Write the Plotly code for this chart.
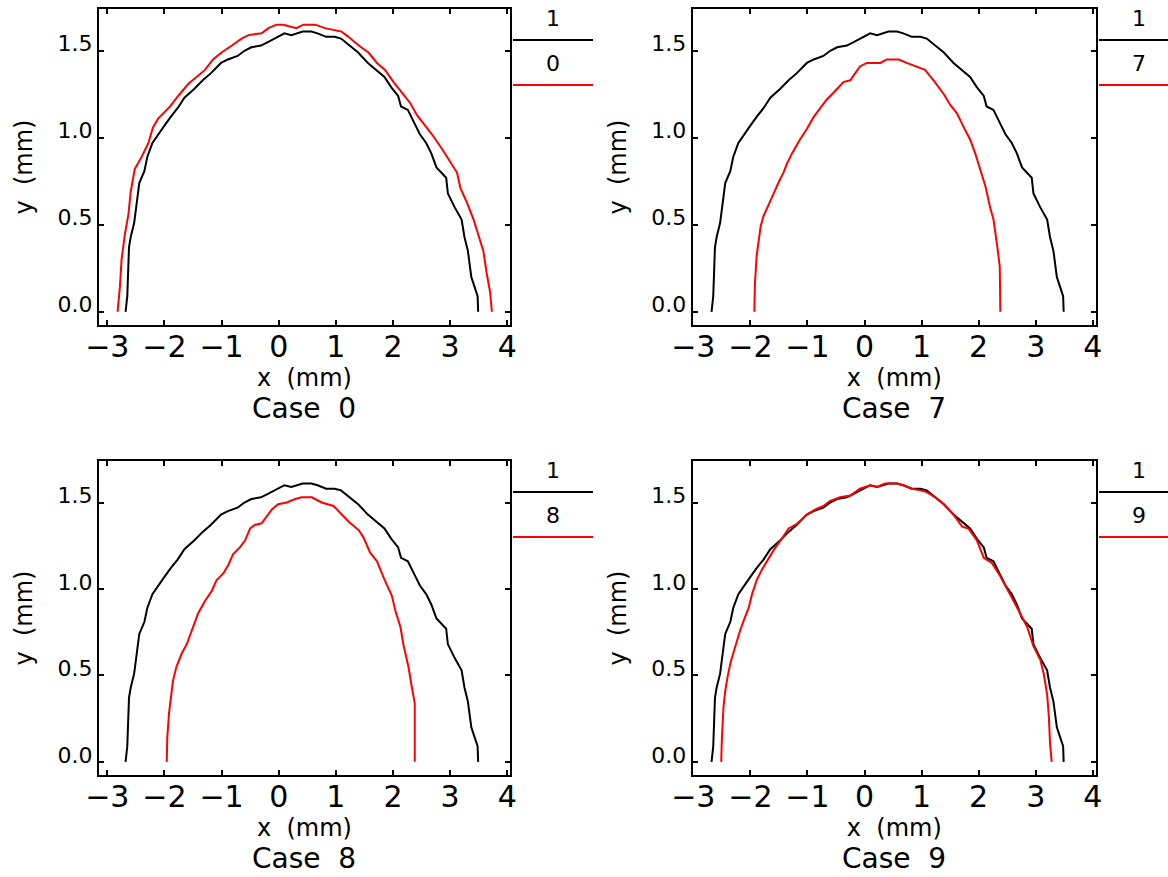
import plotly.graph_objects as go

# ---------------- data ----------------
ref_label = "1"
ref_x = [-2.68, -2.65, -2.62, -2.59, -2.53, -2.50, -2.44, -2.35, -2.30, -2.21, -2.12, -2.00,
         -1.89, -1.77, -1.65, -1.48, -1.33, -1.19, -1.01, -0.89, -0.72, -0.60, -0.48, -0.31,
         -0.19, -0.02, 0.10, 0.22, 0.33, 0.42, 0.57, 0.68, 0.83, 0.98, 1.09, 1.24, 1.39, 1.56,
         1.71, 1.85, 1.97, 2.09, 2.14, 2.26, 2.38, 2.47, 2.58, 2.67, 2.76, 2.93, 2.96, 3.08,
         3.20, 3.25, 3.31, 3.37, 3.43, 3.48, 3.49]
ref_y = [0.00, 0.09, 0.37, 0.43, 0.51, 0.58, 0.74, 0.81, 0.89, 0.97, 1.01, 1.07, 1.12, 1.17,
         1.23, 1.28, 1.33, 1.37, 1.43, 1.45, 1.47, 1.50, 1.52, 1.53, 1.55, 1.58, 1.60, 1.59,
         1.60, 1.61, 1.61, 1.60, 1.58, 1.58, 1.57, 1.53, 1.49, 1.43, 1.39, 1.35, 1.29, 1.24,
         1.18, 1.16, 1.08, 1.02, 0.97, 0.91, 0.83, 0.77, 0.68, 0.60, 0.53, 0.43, 0.35, 0.20,
         0.14, 0.09, 0.00]

case0_x = [-2.82, -2.78, -2.75, -2.69, -2.63, -2.59, -2.52, -2.40, -2.28, -2.20, -2.11, -1.99,
           -1.90, -1.76, -1.58, -1.47, -1.29, -1.15, -1.00, -0.82, -0.65, -0.53, -0.30, -0.18,
           -0.04, 0.08, 0.20, 0.31, 0.43, 0.64, 0.81, 0.99, 1.10, 1.22, 1.40, 1.57, 1.72, 1.86,
           2.01, 2.18, 2.30, 2.42, 2.56, 2.68, 2.85, 3.03, 3.12, 3.18, 3.29, 3.41, 3.50, 3.58,
           3.64, 3.70, 3.73]
case0_y = [0.00, 0.14, 0.30, 0.45, 0.56, 0.69, 0.82, 0.89, 0.97, 1.06, 1.11, 1.15, 1.18, 1.24,
           1.31, 1.34, 1.39, 1.45, 1.49, 1.53, 1.57, 1.59, 1.60, 1.63, 1.65, 1.65, 1.64, 1.63,
           1.65, 1.65, 1.63, 1.62, 1.61, 1.58, 1.53, 1.49, 1.43, 1.39, 1.32, 1.25, 1.20, 1.13,
           1.07, 1.02, 0.94, 0.85, 0.80, 0.71, 0.63, 0.53, 0.43, 0.35, 0.22, 0.11, 0.00]

case7_x = [-1.93, -1.92, -1.89, -1.86, -1.82, -1.77, -1.68, -1.59, -1.51, -1.42, -1.36, -1.27,
           -1.13, -1.01, -0.89, -0.78, -0.66, -0.54, -0.37, -0.25, -0.16, -0.08, 0.04, 0.28,
           0.39, 0.60, 0.74, 0.92, 1.06, 1.21, 1.30, 1.39, 1.50, 1.62, 1.74, 1.85, 1.94, 2.03,
           2.12, 2.20, 2.26, 2.32, 2.37, 2.38]
case7_y = [0.00, 0.16, 0.32, 0.39, 0.49, 0.55, 0.62, 0.68, 0.74, 0.80, 0.85, 0.91, 0.99, 1.05,
           1.12, 1.17, 1.22, 1.26, 1.32, 1.33, 1.37, 1.41, 1.43, 1.43, 1.45, 1.45, 1.43, 1.41,
           1.39, 1.33, 1.29, 1.25, 1.19, 1.14, 1.06, 0.99, 0.91, 0.81, 0.72, 0.60, 0.53, 0.39,
           0.26, 0.00]

case8_x = [-1.96, -1.95, -1.92, -1.89, -1.85, -1.79, -1.70, -1.61, -1.52, -1.41, -1.29, -1.17,
           -1.09, -0.97, -0.88, -0.80, -0.68, -0.59, -0.50, -0.42, -0.30, -0.21, -0.12, -0.01,
           0.14, 0.29, 0.40, 0.58, 0.75, 0.96, 1.07, 1.22, 1.40, 1.48, 1.60, 1.72, 1.83, 1.98,
           2.04, 2.13, 2.18, 2.27, 2.33, 2.38, 2.38]
case8_y = [0.00, 0.14, 0.28, 0.375, 0.47, 0.55, 0.625, 0.68, 0.76, 0.86, 0.93, 0.99, 1.05,
           1.09, 1.14, 1.20, 1.24, 1.28, 1.35, 1.37, 1.38, 1.42, 1.46, 1.49, 1.50, 1.52, 1.53,
           1.53, 1.50, 1.48, 1.44, 1.39, 1.34, 1.30, 1.21, 1.16, 1.07, 0.96, 0.875, 0.78, 0.68,
           0.55, 0.43, 0.34, 0.00]

case9_x = [-2.51, -2.50, -2.47, -2.44, -2.40, -2.35, -2.27, -2.18, -2.09, -2.03, -1.97, -1.89,
           -1.80, -1.71, -1.60, -1.45, -1.33, -1.19, -1.01, -0.86, -0.72, -0.60, -0.43, -0.25,
           -0.08, 0.10, 0.22, 0.36, 0.57, 0.68, 0.83, 0.98, 1.09, 1.24, 1.39, 1.56, 1.71, 1.82,
           1.97, 2.09, 2.23, 2.35, 2.47, 2.58, 2.70, 2.85, 2.96, 3.08, 3.14, 3.20, 3.23, 3.25,
           3.28]
case9_y = [0.00, 0.125, 0.32, 0.41, 0.49, 0.57, 0.66, 0.76, 0.84, 0.89, 0.97, 1.05, 1.11, 1.16,
           1.22, 1.29, 1.35, 1.375, 1.43, 1.46, 1.48, 1.51, 1.53, 1.54, 1.58, 1.60, 1.59, 1.61,
           1.61, 1.60, 1.58, 1.57, 1.56, 1.53, 1.49, 1.43, 1.36, 1.35, 1.28, 1.18, 1.15, 1.09,
           1.02, 0.95, 0.875, 0.78, 0.67, 0.59, 0.51, 0.39, 0.26, 0.11, 0.00]

case_labels = ["0", "7", "8", "9"]
case_xs = [case0_x, case7_x, case8_x, case9_x]
case_ys = [case0_y, case7_y, case8_y, case9_y]

x_tickvals = [-3, -2, -1, 0, 1, 2, 3, 4]
y_tickvals = [0.0, 0.5, 1.0, 1.5]
x_title = "x\u00a0\u00a0(mm)"
y_title = "y\u00a0\u00a0(mm)"

# ---------------- layout geometry (pixels) ----------------
W, H = 1168, 877
FONT = "DejaVu Sans"
panel_x_px = [(99, 510), (692.7, 1096), (99, 510), (692.7, 1096)]
panel_y_px = [(9, 325), (9, 325), (461, 775), (461, 775)]
x_ranges = [[-3.145, 4.047], [-3.01, 4.056], [-3.145, 4.047], [-3.01, 4.056]]
y_range = [-0.076, 1.74]


def px(x):
    return x / W


def py(y):
    return 1 - y / H


fig = go.Figure()
layout = dict(
    width=W, height=H,
    margin=dict(l=0, r=0, t=0, b=0, autoexpand=False),
    paper_bgcolor="white", plot_bgcolor="white",
    showlegend=False,
    font=dict(family=FONT, color="black"),
)
shapes = []
annotations = []

for i in range(4):
    sfx = "" if i == 0 else str(i + 1)
    xa, ya = "x" + sfx, "y" + sfx
    fig.add_trace(go.Scatter(x=ref_x, y=ref_y, mode="lines", xaxis=xa, yaxis=ya,
                             line=dict(color="black", width=2), name=ref_label))
    fig.add_trace(go.Scatter(x=case_xs[i], y=case_ys[i], mode="lines", xaxis=xa, yaxis=ya,
                             line=dict(color="red", width=2), name=case_labels[i]))
    x0, x1 = panel_x_px[i]
    t, b = panel_y_px[i]
    layout["xaxis" + sfx] = dict(
        domain=[px(x0), px(x1)], anchor=ya, range=x_ranges[i], automargin=False,
        tickvals=x_tickvals, ticks="inside", ticklen=5, tickwidth=1.5, tickcolor="black",
        showline=True, linewidth=2, linecolor="black", mirror="allticks",
        showgrid=False, zeroline=False, ticklabelstandoff=-6,
        tickfont=dict(family=FONT, size=30, color="black"),
        title=dict(text=x_title, font=dict(family=FONT, size=24, color="black"), standoff=0),
    )
    layout["yaxis" + sfx] = dict(
        domain=[py(b), py(t)], anchor=xa, range=y_range, automargin=False,
        tickvals=y_tickvals, tickformat=".1f", ticks="inside", ticklen=5, tickwidth=1.5,
        tickcolor="black", ticklabelshift=-7,
        showline=True, linewidth=2, linecolor="black", mirror="allticks",
        showgrid=False, zeroline=False,
        tickfont=dict(family=FONT, size=22, color="black"),
        title=dict(text=y_title, font=dict(family=FONT, size=24, color="black"), standoff=18),
    )
    # case title below the panel
    cx = (x0 + x1) / 2
    annotations.append(dict(
        text="Case\u00a0\u00a0" + case_labels[i], xref="paper", yref="paper",
        x=px(cx), y=py(b + 102), xanchor="center", yanchor="bottom", showarrow=False,
        font=dict(family=FONT, size=28, color="black")))
    # legend column to the right of the panel
    lx0 = x1 + 3
    lx1 = x1 + 83
    lc = (lx0 + lx1) / 2
    for label, color, dy_text, dy_line in [(ref_label, "black", 9.5, 31),
                                           (case_labels[i], "red", 54, 76)]:
        annotations.append(dict(
            text=label, xref="paper", yref="paper", x=px(lc), y=py(t + dy_text),
            xanchor="center", yanchor="middle", showarrow=False,
            font=dict(family=FONT, size=22, color="black")))
        shapes.append(dict(type="line", xref="paper", yref="paper",
                           x0=px(lx0), x1=px(lx1), y0=py(t + dy_line), y1=py(t + dy_line),
                           line=dict(color=color, width=2)))

layout["shapes"] = shapes
layout["annotations"] = annotations
fig.update_layout(**layout)
fig.write_html("out.html")
